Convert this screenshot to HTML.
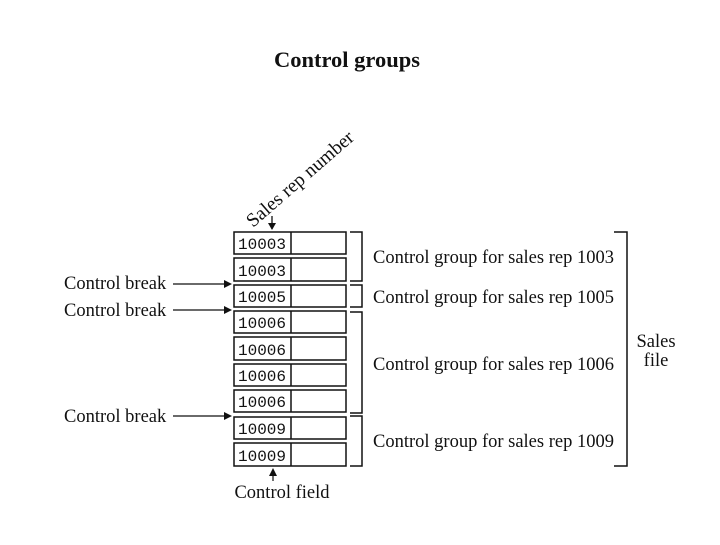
<!DOCTYPE html>
<html><head><style>
body{margin:0;background:#fff;}
svg text{font-family:"Liberation Serif",serif;fill:#111;}
svg text.m{font-family:"Liberation Mono",monospace;font-size:16px;}
</style></head><body>
<svg width="720" height="540" xmlns="http://www.w3.org/2000/svg">
<text x="347" y="67" font-size="22.5" font-weight="bold" text-anchor="middle">Control groups</text>
<text transform="translate(253,228) rotate(-41)" font-size="19.5">Sales rep number</text>
<line x1="272" y1="216" x2="272" y2="229" stroke="#111" stroke-width="1.3"/>
<path d="M268,223 L272,230 L276,223Z" fill="#111"/>
<g fill="none" stroke="#111" stroke-width="1.5">
<rect x="234" y="232" width="112" height="22"/><line x1="291" y1="232" x2="291" y2="254"/>
<rect x="234" y="258" width="112" height="23"/><line x1="291" y1="258" x2="291" y2="281"/>
<rect x="234" y="285" width="112" height="22"/><line x1="291" y1="285" x2="291" y2="307"/>
<rect x="234" y="311" width="112" height="22"/><line x1="291" y1="311" x2="291" y2="333"/>
<rect x="234" y="337" width="112" height="23"/><line x1="291" y1="337" x2="291" y2="360"/>
<rect x="234" y="364" width="112" height="22"/><line x1="291" y1="364" x2="291" y2="386"/>
<rect x="234" y="390" width="112" height="22"/><line x1="291" y1="390" x2="291" y2="412"/>
<rect x="234" y="417" width="112" height="22"/><line x1="291" y1="417" x2="291" y2="439"/>
<rect x="234" y="443" width="112" height="23"/><line x1="291" y1="443" x2="291" y2="466"/>
<path d="M350,232 H362 V281 H350"/>
<path d="M350,285 H362 V307 H350"/>
<path d="M350,312 H362 V413 H350"/>
<path d="M350,416 H362 V466 H350"/>
<path d="M614,232 H627 V466 H614"/>
</g>
<g>
<text class="m" x="238" y="249">10003</text><text class="m" x="238" y="276">10003</text>
<text class="m" x="238" y="302">10005</text><text class="m" x="238" y="328">10006</text>
<text class="m" x="238" y="355">10006</text><text class="m" x="238" y="381">10006</text>
<text class="m" x="238" y="407">10006</text><text class="m" x="238" y="434">10009</text>
<text class="m" x="238" y="461">10009</text>
</g>
<g font-size="18.5">
<text x="64" y="289">Control break</text>
<text x="64" y="316">Control break</text>
<text x="64" y="422">Control break</text>
<text x="373" y="263">Control group for sales rep 1003</text>
<text x="373" y="303">Control group for sales rep 1005</text>
<text x="373" y="370">Control group for sales rep 1006</text>
<text x="373" y="447">Control group for sales rep 1009</text>
<text x="656" y="347" text-anchor="middle">Sales</text>
<text x="656" y="366" text-anchor="middle">file</text>
<text x="282" y="498" text-anchor="middle">Control field</text>
</g>
<g stroke="#111" stroke-width="1.2">
<line x1="173" y1="284" x2="226" y2="284"/>
<line x1="173" y1="310" x2="226" y2="310"/>
<line x1="173" y1="416" x2="226" y2="416"/>
<line x1="273" y1="481" x2="273" y2="470"/>
</g>
<g fill="#111">
<path d="M224,280 L232,284 L224,288Z"/>
<path d="M224,306 L232,310 L224,314Z"/>
<path d="M224,412 L232,416 L224,420Z"/>
<path d="M269,476 L273,468 L277,476Z"/>
</g>
</svg>
</body></html>
